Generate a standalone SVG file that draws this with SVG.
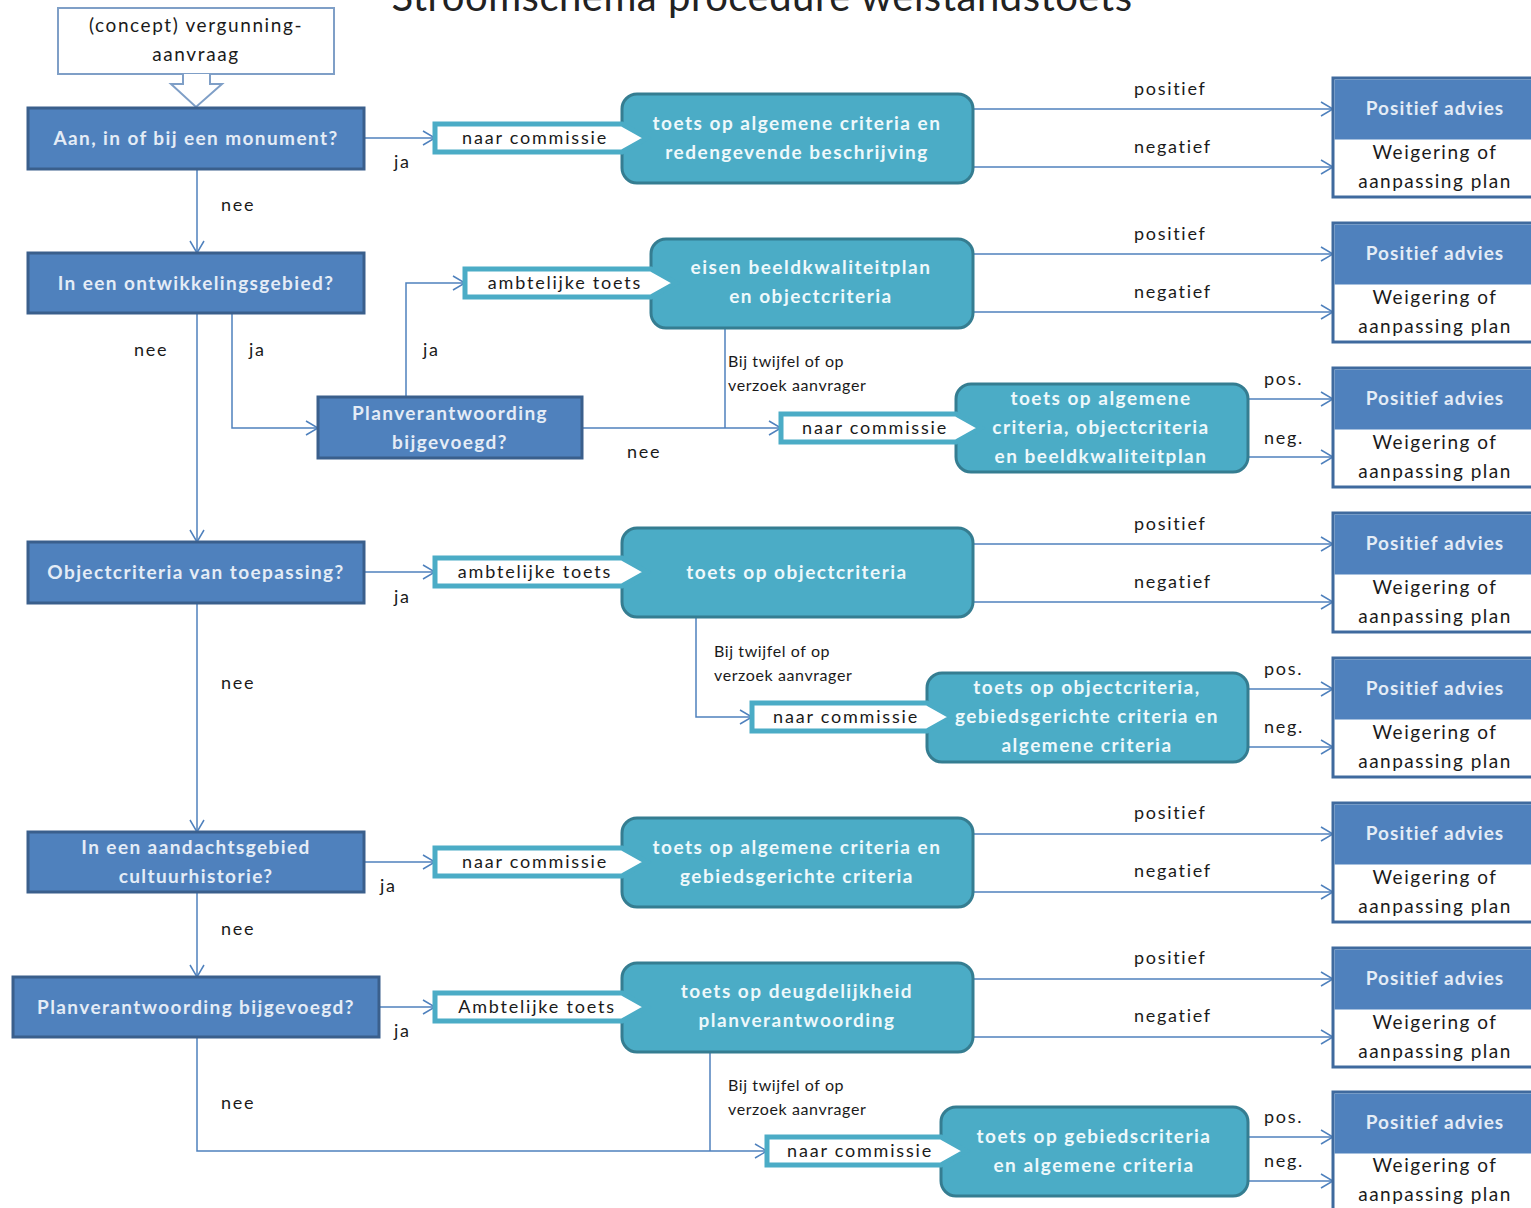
<svg xmlns="http://www.w3.org/2000/svg" width="1531" height="1208" viewBox="0 0 1531 1208">
<defs>
<style>
.dec{fill:#4F81BD;stroke:#3A5F8C;stroke-width:3}
.dect{fill:#E4ECF6;font-family:Lato,"Open Sans",sans-serif;font-weight:bold;font-size:19px;text-anchor:middle;letter-spacing:1.4px}
.proc{fill:#4BACC6;stroke:#357D91;stroke-width:3}
.proct{fill:#EEF8FB;font-family:Lato,"Open Sans",sans-serif;font-weight:bold;font-size:19px;text-anchor:middle;letter-spacing:1.5px}
.lab{fill:#FFFFFF;stroke:#4BACC6;stroke-width:5}
.labt{fill:#1A1A1A;font-family:Lato,"Open Sans",sans-serif;font-size:18px;text-anchor:middle;letter-spacing:1.8px}
.out{fill:#FFFFFF;stroke:#3F6A9E;stroke-width:3}
.outtop{fill:#4F81BD}
.outt1{fill:#E4ECF6;font-family:Lato,"Open Sans",sans-serif;font-weight:bold;font-size:19px;text-anchor:middle;letter-spacing:1.1px}
.outt2{fill:#1A1A1A;font-family:Lato,"Open Sans",sans-serif;font-size:19px;text-anchor:middle;letter-spacing:1.5px}
.con{fill:none;stroke:#4F81BD;stroke-width:1.5}
.arr{marker-end:url(#arr)}
.t{fill:#1A1A1A;font-family:Lato,"Open Sans",sans-serif;font-size:18px;letter-spacing:1.7px}
.ts{fill:#1A1A1A;font-family:Lato,"Open Sans",sans-serif;font-size:16px;letter-spacing:0.6px}
.st{fill:#1A1A1A;font-family:Lato,"Open Sans",sans-serif;font-size:19px;text-anchor:middle;letter-spacing:1.6px}
</style>
<marker id="arr" viewBox="0 0 14 16" refX="13" refY="8" markerWidth="14" markerHeight="16" markerUnits="userSpaceOnUse" orient="auto">
<path d="M1,1 L13,8 L1,15" fill="none" stroke="#4F81BD" stroke-width="1.5"/>
</marker>
</defs>
<rect width="1531" height="1208" fill="#FFFFFF"/>
<text x="762" y="11" font-family="Lato,'Open Sans',sans-serif" font-size="40" fill="#222" text-anchor="middle" letter-spacing="0.5">Stroomschema procedure welstandstoets</text>

<g id="connectors">
<path class="con arr" d="M197,169 V253"/>
<path class="con arr" d="M197,313 V542"/>
<path class="con arr" d="M232,313 V428 H318"/>
<path class="con arr" d="M364,138 H435"/>
<path class="con arr" d="M406,397 V283 H465"/>
<path class="con arr" d="M582,428 H781"/>
<path class="con" d="M725,328 V428"/>
<path class="con arr" d="M364,572 H435"/>
<path class="con arr" d="M696,617 V717 H752"/>
<path class="con arr" d="M197,603 V832"/>
<path class="con arr" d="M364,862 H435"/>
<path class="con arr" d="M197,892 V977"/>
<path class="con arr" d="M379,1007 H435"/>
<path class="con arr" d="M197,1037 V1151 H767"/>
<path class="con" d="M710,1052 V1151"/>
<path class="con arr" d="M973,109 H1333"/>
<path class="con arr" d="M973,167 H1333"/>
<path class="con arr" d="M973,254 H1333"/>
<path class="con arr" d="M973,312 H1333"/>
<path class="con arr" d="M1248,399 H1333"/>
<path class="con arr" d="M1248,457 H1333"/>
<path class="con arr" d="M973,544 H1333"/>
<path class="con arr" d="M973,602 H1333"/>
<path class="con arr" d="M1248,689 H1333"/>
<path class="con arr" d="M1248,747 H1333"/>
<path class="con arr" d="M973,834 H1333"/>
<path class="con arr" d="M973,892 H1333"/>
<path class="con arr" d="M973,979 H1333"/>
<path class="con arr" d="M973,1037 H1333"/>
<path class="con arr" d="M1248,1137 H1333"/>
<path class="con arr" d="M1248,1181 H1333"/>
<text class="t" x="221" y="211">nee</text>
<text class="t" x="134" y="356">nee</text>
<text class="t" x="249" y="356">ja</text>
<text class="t" x="394" y="168">ja</text>
<text class="t" x="423" y="356">ja</text>
<text class="t" x="627" y="458">nee</text>
<text class="t" x="394" y="603">ja</text>
<text class="t" x="221" y="689">nee</text>
<text class="t" x="380" y="892">ja</text>
<text class="t" x="221" y="935">nee</text>
<text class="t" x="394" y="1037">ja</text>
<text class="t" x="221" y="1109">nee</text>
<text class="ts" x="728" y="367">Bij twijfel of op</text>
<text class="ts" x="728" y="391">verzoek aanvrager</text>
<text class="ts" x="714" y="657">Bij twijfel of op</text>
<text class="ts" x="714" y="681">verzoek aanvrager</text>
<text class="ts" x="728" y="1091">Bij twijfel of op</text>
<text class="ts" x="728" y="1115">verzoek aanvrager</text>
<text class="t" x="1134" y="95">positief</text>
<text class="t" x="1134" y="153">negatief</text>
<text class="t" x="1134" y="240">positief</text>
<text class="t" x="1134" y="298">negatief</text>
<text class="t" x="1264" y="385">pos.</text>
<text class="t" x="1264" y="444">neg.</text>
<text class="t" x="1134" y="530">positief</text>
<text class="t" x="1134" y="588">negatief</text>
<text class="t" x="1264" y="675">pos.</text>
<text class="t" x="1264" y="733">neg.</text>
<text class="t" x="1134" y="819">positief</text>
<text class="t" x="1134" y="877">negatief</text>
<text class="t" x="1134" y="964">positief</text>
<text class="t" x="1134" y="1022">negatief</text>
<text class="t" x="1264" y="1123">pos.</text>
<text class="t" x="1264" y="1167">neg.</text>
</g>

<g id="start">
<rect x="58" y="8" width="276" height="66" fill="#FFFFFF" stroke="#7F9FC7" stroke-width="2"/>
<text class="st" x="196" y="32">(concept) vergunning-</text>
<text class="st" x="196" y="61">aanvraag</text>
<path d="M183,74 V84 H171 L196,107 L222,84 H210 V74" fill="#FFFFFF" stroke="#7F9FC7" stroke-width="2"/>
</g>

<g id="d1"><rect class="dec" x="28" y="108" width="336" height="61"/><text class="dect" x="196" y="145">Aan, in of bij een monument?</text></g>
<g id="d2"><rect class="dec" x="28" y="253" width="336" height="60"/><text class="dect" x="196" y="290">In een ontwikkelingsgebied?</text></g>
<g id="d3"><rect class="dec" x="318" y="397" width="264" height="61"/><text class="dect" x="450" y="420">Planverantwoording</text><text class="dect" x="450" y="449">bijgevoegd?</text></g>
<g id="d4"><rect class="dec" x="28" y="542" width="336" height="61"/><text class="dect" x="196" y="579">Objectcriteria van toepassing?</text></g>
<g id="d5"><rect class="dec" x="28" y="832" width="336" height="60"/><text class="dect" x="196" y="854">In een aandachtsgebied</text><text class="dect" x="196" y="883">cultuurhistorie?</text></g>
<g id="d6"><rect class="dec" x="13" y="977" width="366" height="60"/><text class="dect" x="196" y="1014">Planverantwoording bijgevoegd?</text></g>

<g id="p1"><rect class="proc" x="622" y="94" width="351" height="89" rx="15"/><path class="lab" d="M435,124 H622 L647,138 L622,152 H435 Z"/><text class="labt" x="535" y="144">naar commissie</text><text class="proct" x="797" y="130">toets op algemene criteria en</text><text class="proct" x="797" y="159">redengevende beschrijving</text></g>
<g id="p2"><rect class="proc" x="651" y="239" width="322" height="89" rx="15"/><path class="lab" d="M465,269 H651 L676,283 L651,297 H465 Z"/><text class="labt" x="565" y="289">ambtelijke toets</text><text class="proct" x="811" y="274">eisen beeldkwaliteitplan</text><text class="proct" x="811" y="303">en objectcriteria</text></g>
<g id="p3"><rect class="proc" x="956" y="384" width="292" height="88" rx="15"/><path class="lab" d="M781,414 H956 L981,428 L956,442 H781 Z"/><text class="labt" x="875" y="434">naar commissie</text><text class="proct" x="1101" y="405">toets op algemene</text><text class="proct" x="1101" y="434">criteria, objectcriteria</text><text class="proct" x="1101" y="463">en beeldkwaliteitplan</text></g>
<g id="p4"><rect class="proc" x="622" y="528" width="351" height="89" rx="15"/><path class="lab" d="M435,558 H622 L647,572 L622,586 H435 Z"/><text class="labt" x="535" y="578">ambtelijke toets</text><text class="proct" x="797" y="579">toets op objectcriteria</text></g>
<g id="p5"><rect class="proc" x="927" y="673" width="321" height="89" rx="15"/><path class="lab" d="M752,703 H927 L952,717 L927,731 H752 Z"/><text class="labt" x="846" y="723">naar commissie</text><text class="proct" x="1087" y="694">toets op objectcriteria,</text><text class="proct" x="1087" y="723">gebiedsgerichte criteria en</text><text class="proct" x="1087" y="752">algemene criteria</text></g>
<g id="p6"><rect class="proc" x="622" y="818" width="351" height="89" rx="15"/><path class="lab" d="M435,848 H622 L647,862 L622,876 H435 Z"/><text class="labt" x="535" y="868">naar commissie</text><text class="proct" x="797" y="854">toets op algemene criteria en</text><text class="proct" x="797" y="883">gebiedsgerichte criteria</text></g>
<g id="p7"><rect class="proc" x="622" y="963" width="351" height="89" rx="15"/><path class="lab" d="M435,993 H622 L647,1007 L622,1021 H435 Z"/><text class="labt" x="537" y="1013">Ambtelijke toets</text><text class="proct" x="797" y="998">toets op deugdelijkheid</text><text class="proct" x="797" y="1027">planverantwoording</text></g>
<g id="p8"><rect class="proc" x="941" y="1107" width="307" height="89" rx="15"/><path class="lab" d="M767,1137 H941 L966,1151 L941,1165 H767 Z"/><text class="labt" x="860" y="1157">naar commissie</text><text class="proct" x="1094" y="1143">toets op gebiedscriteria</text><text class="proct" x="1094" y="1172">en algemene criteria</text></g>

<g id="o1"><rect class="out" x="1333" y="78" width="210" height="119"/><rect class="outtop" x="1334.5" y="79.5" width="210" height="60"/><text class="outt1" x="1435" y="115">Positief advies</text><text class="outt2" x="1435" y="159">Weigering of</text><text class="outt2" x="1435" y="188">aanpassing plan</text></g>
<g id="o2"><rect class="out" x="1333" y="223" width="210" height="119"/><rect class="outtop" x="1334.5" y="224.5" width="210" height="60"/><text class="outt1" x="1435" y="260">Positief advies</text><text class="outt2" x="1435" y="304">Weigering of</text><text class="outt2" x="1435" y="333">aanpassing plan</text></g>
<g id="o3"><rect class="out" x="1333" y="368" width="210" height="119"/><rect class="outtop" x="1334.5" y="369.5" width="210" height="60"/><text class="outt1" x="1435" y="405">Positief advies</text><text class="outt2" x="1435" y="449">Weigering of</text><text class="outt2" x="1435" y="478">aanpassing plan</text></g>
<g id="o4"><rect class="out" x="1333" y="513" width="210" height="119"/><rect class="outtop" x="1334.5" y="514.5" width="210" height="60"/><text class="outt1" x="1435" y="550">Positief advies</text><text class="outt2" x="1435" y="594">Weigering of</text><text class="outt2" x="1435" y="623">aanpassing plan</text></g>
<g id="o5"><rect class="out" x="1333" y="658" width="210" height="119"/><rect class="outtop" x="1334.5" y="659.5" width="210" height="60"/><text class="outt1" x="1435" y="695">Positief advies</text><text class="outt2" x="1435" y="739">Weigering of</text><text class="outt2" x="1435" y="768">aanpassing plan</text></g>
<g id="o6"><rect class="out" x="1333" y="803" width="210" height="119"/><rect class="outtop" x="1334.5" y="804.5" width="210" height="60"/><text class="outt1" x="1435" y="840">Positief advies</text><text class="outt2" x="1435" y="884">Weigering of</text><text class="outt2" x="1435" y="913">aanpassing plan</text></g>
<g id="o7"><rect class="out" x="1333" y="948" width="210" height="119"/><rect class="outtop" x="1334.5" y="949.5" width="210" height="60"/><text class="outt1" x="1435" y="985">Positief advies</text><text class="outt2" x="1435" y="1029">Weigering of</text><text class="outt2" x="1435" y="1058">aanpassing plan</text></g>
<g id="o8"><rect class="out" x="1333" y="1092" width="210" height="119"/><rect class="outtop" x="1334.5" y="1093.5" width="210" height="60"/><text class="outt1" x="1435" y="1129">Positief advies</text><text class="outt2" x="1435" y="1172">Weigering of</text><text class="outt2" x="1435" y="1201">aanpassing plan</text></g>
</svg>
